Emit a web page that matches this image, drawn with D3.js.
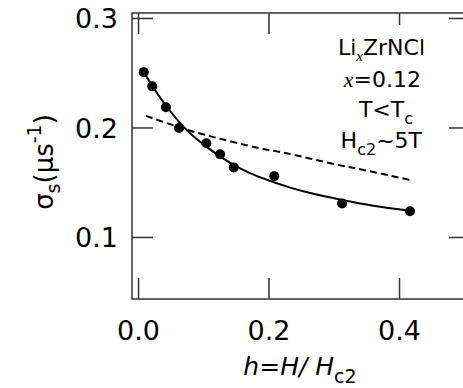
<html lang='en'>
	<head>
		<title>sigma_s vs h</title>
		<script src="https://d3js.org/d3.v7.min.js" charset="utf-8"></script>
		<style type="text/css">
			body{
				margin: 0;
				background: white;
				font-family: "DejaVu Sans", sans-serif;
			}
		</style>
	</head>
	<body>
		<div class="main"></div>
		<script>
			// measured points
			var hVals = [0.008, 0.021, 0.042, 0.062, 0.104, 0.125, 0.146, 0.208, 0.312, 0.416]
			var sigVals = [0.251, 0.238, 0.219, 0.200, 0.186, 0.176, 0.164, 0.156, 0.131, 0.124]
			var sigErr = [0.003, 0.003, 0.003, 0.003, 0.003, 0.003, 0.003, 0.003, 0.003, 0.003]
			// solid fit curve
			var fitH = [0.008, 0.02, 0.03, 0.042, 0.055, 0.069, 0.085, 0.105, 0.125, 0.145, 0.17, 0.2, 0.23, 0.26, 0.31, 0.36, 0.416]
			var fitS = [0.251, 0.2395, 0.2305, 0.2205, 0.2105, 0.201, 0.192, 0.1825, 0.174, 0.1665, 0.159, 0.152, 0.146, 0.141, 0.1345, 0.129, 0.1245]
			// dashed curve
			var dashH = [0.0115, 0.064, 0.1, 0.186, 0.227, 0.3, 0.35, 0.416]
			var dashS = [0.211, 0.2003, 0.194, 0.1815, 0.1769, 0.167, 0.161, 0.1525]
			var xTicks = [0.0, 0.2, 0.4]
			var yTicks = [0.1, 0.2, 0.3]

			var width = 463
			var height = 388
			var svg = d3.select(".main")
				.append("svg")
				.attr("width", width)
				.attr("height", height)

			var x = d3.scaleLinear().domain([-0.01, 0.508]).range([132, 470])
			var y = d3.scaleLinear().domain([0.0438, 0.305]).range([299, 13])
			var tickLen = 21

			var line = d3.line()
				.x(function(d){ return x(d[0]) })
				.y(function(d){ return y(d[1]) })
				.curve(d3.curveCatmullRom)

			// dashed curve
			svg.append("path")
				.datum(d3.zip(dashH, dashS))
				.attr("d", line)
				.attr("fill", "none")
				.attr("stroke", "black")
				.attr("stroke-width", 2)
				.attr("stroke-dasharray", "7,4")

			// fit
			svg.append("path")
				.datum(d3.zip(fitH, fitS))
				.attr("d", line)
				.attr("fill", "none")
				.attr("stroke", "black")
				.attr("stroke-width", 2)

			var pts = d3.zip(hVals, sigVals, sigErr)
			svg.selectAll("line.err")
				.data(pts)
				.enter()
				.append("line")
				.attr("class", "err")
				.attr("x1", function(d){ return x(d[0]) })
				.attr("x2", function(d){ return x(d[0]) })
				.attr("y1", function(d){ return y(d[1] - d[2]) })
				.attr("y2", function(d){ return y(d[1] + d[2]) })
				.attr("stroke", "black")
				.attr("stroke-width", 1.5)
			svg.selectAll("circle")
				.data(pts)
				.enter()
				.append("circle")
				.attr("cx", function(d){ return x(d[0]) })
				.attr("cy", function(d){ return y(d[1]) })
				.attr("r", 5)
				.attr("fill", "black")

			// annotation box (white background hides the top tick)
			svg.append("rect")
				.attr("x", 330).attr("y", 25)
				.attr("width", 95).attr("height", 130)
				.attr("fill", "white")

			var ann = svg.append("g")
				.attr("font-size", 22)
				.attr("text-anchor", "end")
			var t1 = ann.append("text").attr("x", 425).attr("y", 55)
			t1.append("tspan").text("Li")
			t1.append("tspan").attr("font-family", "Liberation Serif").attr("font-style", "italic")
				.attr("font-size", 15).attr("dy", 6).text("x")
			t1.append("tspan").attr("dy", -6).text("ZrNCl")
			var t2 = ann.append("text").attr("x", 421).attr("y", 87)
			t2.append("tspan").attr("font-family", "Liberation Serif").attr("font-style", "italic").text("x")
			t2.append("tspan").text("=0.12")
			var t3 = ann.append("text").attr("x", 413).attr("y", 117)
			t3.append("tspan").text("T<T")
			t3.append("tspan").attr("font-size", 16).attr("dy", 7).text("c")
			var t4 = ann.append("text").attr("x", 422).attr("y", 148)
			t4.append("tspan").text("H")
			t4.append("tspan").attr("font-size", 16).attr("dy", 7).text("c2")
			t4.append("tspan").attr("dy", -7).text("~5T")

			// frame
			var frame = svg.append("g")
				.attr("stroke", "#333")
				.attr("stroke-width", 1.5)
			frame.append("rect")
				.attr("x", 132).attr("y", 13)
				.attr("width", 470 - 132).attr("height", 299 - 13)
				.attr("fill", "none")

			// ticks on all four sides, pointing in
			xTicks.forEach(function(t){
				frame.append("line")
					.attr("x1", x(t)).attr("x2", x(t))
					.attr("y1", 299).attr("y2", 299 - tickLen)
				if(t < 0.3){
					frame.append("line")
						.attr("x1", x(t)).attr("x2", x(t))
						.attr("y1", 13).attr("y2", 13 + tickLen)
				}
			})
			frame.append("line")
				.attr("x1", x(0.4)).attr("x2", x(0.4))
				.attr("y1", 13).attr("y2", 25)
			yTicks.forEach(function(t){
				frame.append("line")
					.attr("x1", 132).attr("x2", 132 + tickLen)
					.attr("y1", y(t)).attr("y2", y(t))
				frame.append("line")
					.attr("x1", 470).attr("x2", 470 - tickLen)
					.attr("y1", y(t)).attr("y2", y(t))
			})

			// tick labels
			svg.selectAll("text.xt")
				.data(xTicks)
				.enter()
				.append("text")
				.attr("class", "xt")
				.attr("x", function(d){ return x(d) })
				.attr("y", 340)
				.attr("text-anchor", "middle")
				.attr("font-size", 27)
				.text(function(d){ return d3.format(".1f")(d) })
			svg.selectAll("text.yt")
				.data(yTicks)
				.enter()
				.append("text")
				.attr("class", "yt")
				.attr("x", 118)
				.attr("y", function(d){ return y(d) + 10 })
				.attr("text-anchor", "end")
				.attr("font-size", 27)
				.text(function(d){ return d3.format(".1f")(d) })

			// axis titles
			var xl = svg.append("text")
				.attr("x", 300).attr("y", 375)
				.attr("text-anchor", "middle")
				.attr("font-size", 25)
				.attr("font-style", "italic")
			xl.append("tspan").text("h=H/ H")
			xl.append("tspan").attr("font-style", "normal").attr("font-size", 19).attr("dy", 8).text("c2")

			var yl = svg.append("text")
				.attr("transform", "translate(53,162) rotate(-90)")
				.attr("text-anchor", "middle")
				.attr("font-size", 26)
			yl.append("tspan").text("σ")
			yl.append("tspan").attr("font-size", 19).attr("dy", 7).text("s")
			yl.append("tspan").attr("dy", -7).text("(μs")
			yl.append("tspan").attr("font-size", 19).attr("dy", -12).text("-1")
			yl.append("tspan").attr("dy", 12).text(")")
		</script>
	</body>
</html>
